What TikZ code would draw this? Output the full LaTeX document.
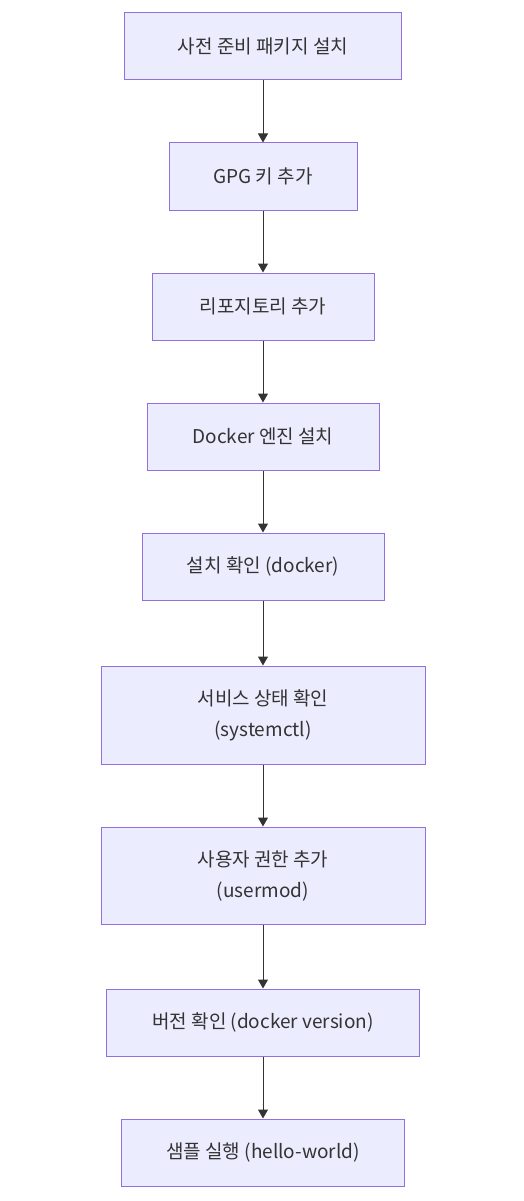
\documentclass[tikz,border=0pt]{standalone}
\usepackage{fontspec}
\setmainfont{Noto Sans CJK KR}
\usetikzlibrary{arrows.meta}
\definecolor{boxfill}{HTML}{ECECFF}
\definecolor{boxline}{HTML}{9370DB}
\definecolor{arrowline}{HTML}{333333}
\begin{document}
\begin{tikzpicture}[
        x=1pt, y=-1pt,
        stepbox/.style={rectangle, draw=boxline, fill=boxfill, line width=1pt,
          minimum height=67pt, align=center, inner sep=0pt,
        font=\fontsize{19}{31}\selectfont, text=arrowline},
        flow/.style={draw=arrowline, line width=1pt,
        -{Triangle[length=9pt,width=10pt]}},
      ]
      \useasboundingbox (0,0) rectangle (523,1201);

      \node[stepbox, minimum width=277pt] (prep) at (263, 46.5)
      {사전 준비 패키지 설치};

      \node[stepbox, minimum width=188pt] (gpg) at (263, 176.5)
      {GPG 키 추가};

      \node[stepbox, minimum width=222pt] (repo) at (263, 306.5)
      {리포지토리 추가};

      \node[stepbox, minimum width=232pt] (engine) at (263, 436.5)
      {Docker 엔진 설치};

      \node[stepbox, minimum width=242pt] (check) at (263, 566.5)
      {설치 확인 (docker)};

      \node[stepbox, minimum width=324pt, minimum height=98pt] (service) at (263, 715)
      {서비스 상태 확인\\(systemctl)};

      \node[stepbox, minimum width=324pt, minimum height=97pt] (usergrp) at (263, 875.5)
      {사용자 권한 추가\\(usermod)};

      \node[stepbox, minimum width=313pt] (version) at (263, 1022.5)
      {버전 확인 (docker version)};

      \node[stepbox, minimum width=283pt] (hello) at (263, 1152.5)
      {샘플 실행 (hello-world)};

      \draw[flow] (prep) -- (gpg);
      \draw[flow] (gpg) -- (repo);
      \draw[flow] (repo) -- (engine);
      \draw[flow] (engine) -- (check);
      \draw[flow] (check) -- (service);
      \draw[flow] (service) -- (usergrp);
      \draw[flow] (usergrp) -- (version);
      \draw[flow] (version) -- (hello);

    \end{tikzpicture}
\end{document}
